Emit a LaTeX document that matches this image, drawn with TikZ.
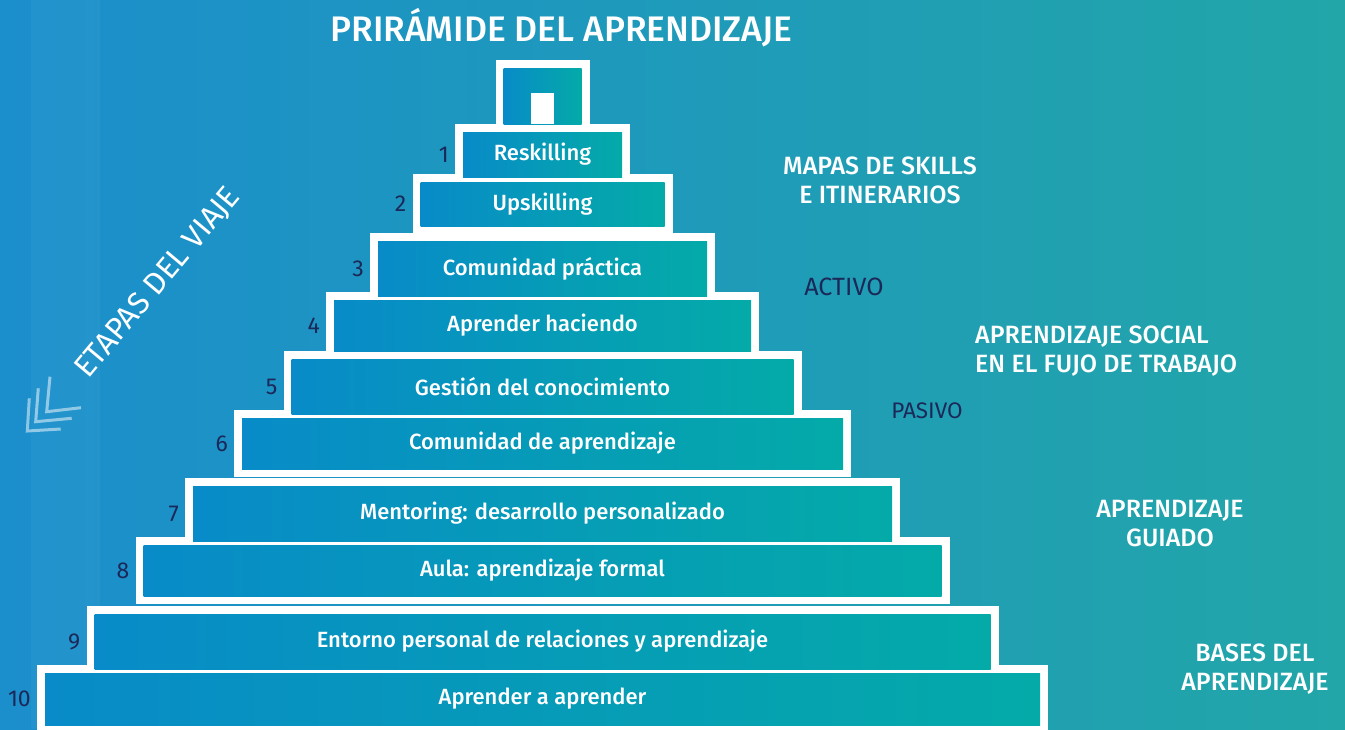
\documentclass[tikz,border=0pt]{standalone}
\usepackage{fontspec}
\setmainfont{Fira Sans}
\newfontfamily\medfont{Fira Sans Medium}
\usetikzlibrary{positioning}
\pgfdeclarelayer{background}
\pgfsetlayers{background,main}
\definecolor{bgleft}{RGB}{27,142,204}
\definecolor{bgright}{RGB}{34,166,168}
\definecolor{barleft}{RGB}{8,139,200}
\definecolor{barright}{RGB}{4,170,168}
\definecolor{navy}{RGB}{27,40,88}
\begin{document}
\begin{tikzpicture}[x=1pt, y=-1pt,
  bar/.style = {shade, left color=barleft, right color=barright, text=white, font=\medfont\fontsize{22}{26}\selectfont, inner sep=0pt, outer sep=0pt},
  num/.style = {text=navy, font=\fontsize{23}{26}\selectfont, inner sep=0pt},
  side/.style = {text=white, font=\medfont\fontsize{25}{29}\selectfont, align=center, inner sep=0pt},
  mode/.style = {text=navy, font=\fontsize{25}{28}\selectfont, inner sep=0pt},
  chev/.style = {draw=white, draw opacity=0.5, line width=3pt}]
\useasboundingbox (0,0) rectangle (1345,729);

\node[bar, minimum width=159pt, minimum height=45pt] (b1) at (542.5,154.5) {Reskilling};
\node[bar, minimum width=78pt, minimum height=56pt, above=8pt of b1] (b0) {};
\node[bar, minimum width=244pt, minimum height=44pt, below=5pt of b1] (b2) {Upskilling};
\node[bar, minimum width=329pt, minimum height=55pt, below=15pt of b2] (b3) {Comunidad práctica};
\node[bar, minimum width=417pt, minimum height=51pt, below=4pt of b3] (b4) {Aprender haciendo};
\node[bar, minimum width=502pt, minimum height=55pt, below=8pt of b4] (b5) {Gestión del conocimiento};
\node[bar, minimum width=601pt, minimum height=51pt, below=4pt of b5] (b6) {Comunidad de aprendizaje};
\node[bar, minimum width=699pt, minimum height=55pt, below=17pt of b6] (b7) {Mentoring: desarrollo personalizado};
\node[bar, minimum width=798pt, minimum height=51pt, below=4pt of b7] (b8) {Aula: aprendizaje formal};
\node[bar, minimum width=896pt, minimum height=55pt, below=18pt of b8] (b9) {Entorno personal de relaciones y aprendizaje};
\node[bar, minimum width=995pt, minimum height=52pt, below=4pt of b9] (b10) {Aprender a aprender};
\fill[white] ([xshift=-11.5pt]b0.south) rectangle ([xshift=11.5pt,yshift=31pt]b0.south);

\begin{pgfonlayer}{background}
\shade[left color=bgleft, right color=bgright] (0,0) rectangle (1345,729);
\fill[white, opacity=0.04] (31,0) rectangle (100,729);
\foreach \i in {0,...,10}
  \fill[white] ([shift={(-8pt,8pt)}]b\i.north west) rectangle ([shift={(8pt,-8pt)}]b\i.south east);
\end{pgfonlayer}

\node[num, left=14pt of b1] (n1) {1};
\node[num, left=14pt of b2] (n2) {2};
\node[num, left=14pt of b3] (n3) {3};
\node[num, left=14pt of b4] (n4) {4};
\node[num, left=14pt of b5] (n5) {5};
\node[num, left=14pt of b6] (n6) {6};
\node[num, left=14pt of b7] (n7) {7};
\node[num, left=14pt of b8] (n8) {8};
\node[num, left=14pt of b9] (n9) {9};
\node[num, left=14pt of b10] (n10) {10};

\node[text=white, font=\medfont\fontsize{35.5}{40}\selectfont, anchor=base, inner sep=0pt] (title) at (561.5,41) {PRIRÁMIDE DEL APRENDIZAJE};
\node[side] (mapas) at (880,180) {MAPAS DE SKILLS\\E ITINERARIOS};
\node[mode] (activo) at (844,287) {ACTIVO};
\node[side, align=left, anchor=west] (social) at (975,351) {APRENDIZAJE SOCIAL\\EN EL FUJO DE TRABAJO};
\node[mode, font=\fontsize{22.5}{26}\selectfont] (pasivo) at (927,411) {PASIVO};
\node[side] (guiado) at (1170,524) {APRENDIZAJE\\GUIADO};
\node[side] (bases) at (1255,669) {BASES DEL\\APRENDIZAJE};
\node[text=white, font=\fontsize{31}{34}\selectfont, rotate=50, inner sep=0pt] (etapas) at (158,283) {ETAPAS DEL VIAJE};

\draw[chev] (29.3,398.3) -- (27.3,431) -- (60.7,429);
\draw[chev] (38.3,388.3) -- (35.7,421.7) -- (71.7,418.3);
\draw[chev] (50,376.7) -- (46.7,411.7) -- (81,407.7);
\end{tikzpicture}
\end{document}
